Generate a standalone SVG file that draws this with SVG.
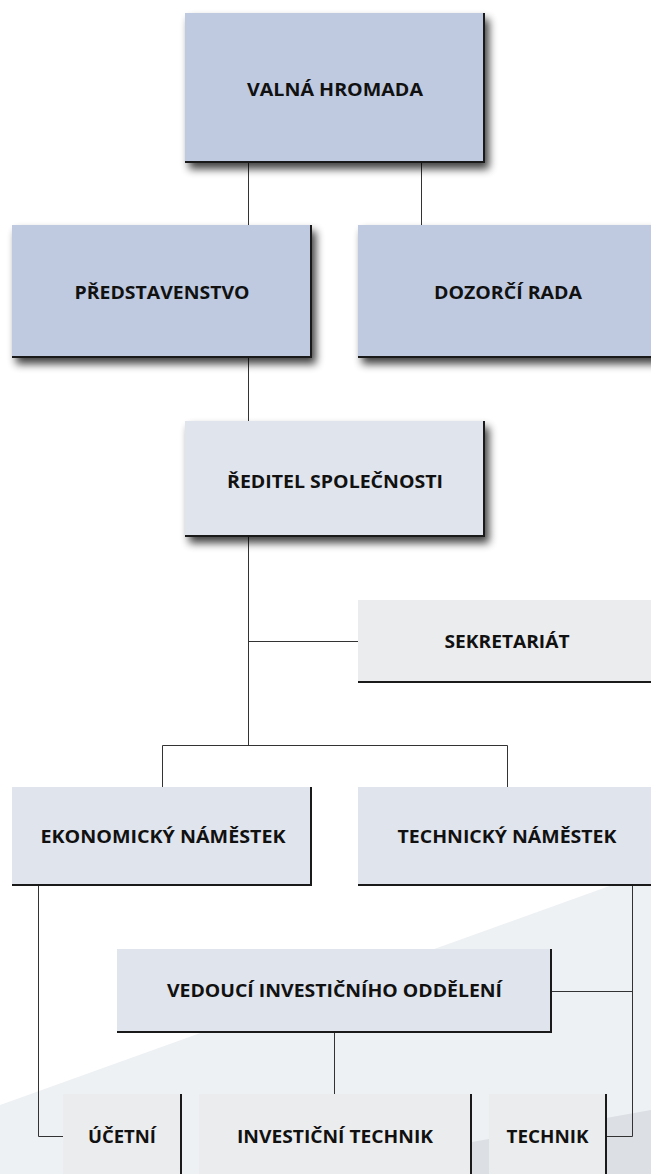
<svg xmlns="http://www.w3.org/2000/svg" width="651" height="1174" viewBox="0 0 651 1174">
<defs>
<filter id="sh" x="-10%" y="-10%" width="130%" height="140%">
<feGaussianBlur in="SourceAlpha" stdDeviation="4"/>
<feOffset dx="4" dy="6" result="b"/>
<feComponentTransfer><feFuncA type="linear" slope="0.75"/></feComponentTransfer>
<feMerge><feMergeNode/><feMergeNode in="SourceGraphic"/></feMerge>
</filter>
<style>
.t{font-family:"Open Sans","Liberation Sans",sans-serif;font-weight:bold;font-size:18px;fill:#111;text-anchor:middle}
.blue{fill:#bfcae1}
.lite{fill:#e0e4ed}
.gray{fill:#ebeced}
.edge{stroke:#1a1a1a;stroke-width:2;fill:none}
.c{stroke:#333;stroke-width:1;fill:none}
</style>
</defs>
<rect width="651" height="1174" fill="#ffffff"/>
<g id="background">
<polygon points="0,1105 651,871 651,1174 0,1174" fill="#eef1f4"/>
<polygon points="292,1174 651,1110 651,1174" fill="#dcdfe3"/>
</g>
<g id="connectors">
<path class="c" d="M248.5,163 V225 M421.5,163 V225"/>
<path class="c" d="M248.5,358 V421"/>
<path class="c" d="M248.5,537 V745.5 M248.5,641.5 H358"/>
<path class="c" d="M162.5,787 V745.5 H507.5 V787"/>
<path class="c" d="M38.5,886 V1136.5 H63"/>
<path class="c" d="M632.5,886 V1136.5 H606 M552,991.5 H632.5"/>
<path class="c" d="M334.5,1033 V1094"/>
</g>
<g id="valna-hromada">
<rect class="blue" x="185" y="13" width="300" height="150" filter="url(#sh)"/>
<path class="edge" d="M185,162 H484 V13"/>
<text class="t" x="335" y="96" textLength="176" lengthAdjust="spacingAndGlyphs">VALNÁ HROMADA</text>
</g>
<g id="predstavenstvo">
<rect class="blue" x="12" y="225" width="300" height="133" filter="url(#sh)"/>
<path class="edge" d="M12,357 H311 V225"/>
<text class="t" x="162" y="299" textLength="175" lengthAdjust="spacingAndGlyphs">PŘEDSTAVENSTVO</text>
</g>
<g id="dozorci-rada">
<rect class="blue" x="358" y="225" width="300" height="133" filter="url(#sh)"/>
<path class="edge" d="M358,357 H658"/>
<text class="t" x="508" y="299" textLength="148" lengthAdjust="spacingAndGlyphs">DOZORČÍ RADA</text>
</g>
<g id="reditel">
<rect class="lite" x="185" y="421" width="300" height="116" filter="url(#sh)"/>
<path class="edge" d="M185,536 H484 V421"/>
<text class="t" x="335" y="488" textLength="216" lengthAdjust="spacingAndGlyphs">ŘEDITEL SPOLEČNOSTI</text>
</g>
<g id="sekretariat">
<rect class="gray" x="358" y="600" width="300" height="83"/>
<path class="edge" d="M358,682 H658"/>
<text class="t" x="507" y="648" textLength="125" lengthAdjust="spacingAndGlyphs">SEKRETARIÁT</text>
</g>
<g id="ekonomicky-namestek">
<rect class="lite" x="12" y="787" width="300" height="99"/>
<path class="edge" d="M12,885 H311 V787"/>
<text class="t" x="163" y="843" textLength="245" lengthAdjust="spacingAndGlyphs">EKONOMICKÝ NÁMĚSTEK</text>
</g>
<g id="technicky-namestek">
<rect class="lite" x="358" y="787" width="300" height="99"/>
<path class="edge" d="M358,885 H658"/>
<text class="t" x="507" y="843" textLength="219" lengthAdjust="spacingAndGlyphs">TECHNICKÝ NÁMĚSTEK</text>
</g>
<g id="vedouci-investicniho-oddeleni">
<rect class="lite" x="117" y="949" width="435" height="84"/>
<path class="edge" d="M117,1032 H551 V949"/>
<text class="t" x="334.5" y="997" textLength="335" lengthAdjust="spacingAndGlyphs">VEDOUCÍ INVESTIČNÍHO ODDĚLENÍ</text>
</g>
<g id="ucetni">
<rect class="gray" x="63" y="1094" width="118" height="80"/>
<path class="edge" d="M181,1094 V1174"/>
<text class="t" x="122" y="1143" textLength="68" lengthAdjust="spacingAndGlyphs">ÚČETNÍ</text>
</g>
<g id="investicni-technik">
<rect class="gray" x="199" y="1094" width="272" height="80"/>
<path class="edge" d="M471,1094 V1174"/>
<text class="t" x="335" y="1143" textLength="196" lengthAdjust="spacingAndGlyphs">INVESTIČNÍ TECHNIK</text>
</g>
<g id="technik">
<rect class="gray" x="489" y="1094" width="117" height="80"/>
<path class="edge" d="M606,1094 V1174"/>
<text class="t" x="547.5" y="1143" textLength="82" lengthAdjust="spacingAndGlyphs">TECHNIK</text>
</g>
</svg>
